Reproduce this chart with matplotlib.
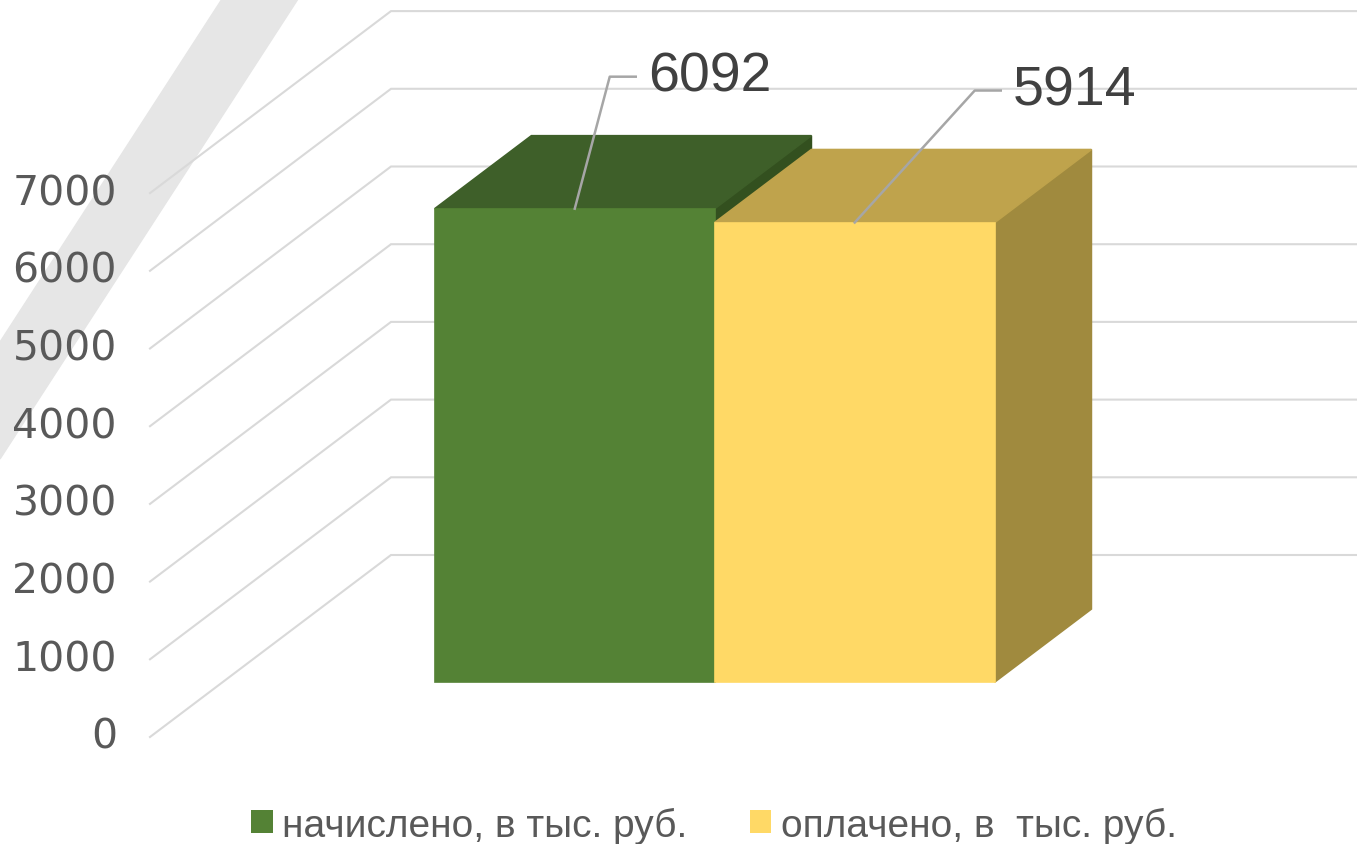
import numpy as np
import matplotlib
matplotlib.use('Agg')
import matplotlib.pyplot as plt
from matplotlib.patches import Polygon, Patch
from matplotlib import font_manager

# данные
series = ['начислено, в тыс. руб.', 'оплачено, в  тыс. руб.']
values = [6092, 5914]
y_ticks = [0, 1000, 2000, 3000, 4000, 5000, 6000, 7000]

front_colors = ['#548235', '#ffd966']
top_colors = ['#3e5f29', '#bfa34c']
side_colors = ['#33501f', '#a08a3e']

# геометрия псевдо-3D (в пикселях картинки)
W, H = 1357, 845
PX_U = 280.0          # пикселей на ширину столбца
PX_V = 0.0777         # пикселей на единицу значения
ORIG_X, ORIG_Y = 150, 738
du = 241 / PX_U
dv = 182 / PX_V
D_FRONT, D_BACK = 0.302, 0.703
bar_left = [0.757, 1.757]

names = {f.name for f in font_manager.fontManager.ttflist}
narrow = 'Liberation Sans Narrow' if 'Liberation Sans Narrow' in names else 'Liberation Sans'


def proj(u, v, d):
    return (u + d * du, v + d * dv)


fig = plt.figure(figsize=(W / 100, H / 100), dpi=100)

# декоративная серая полоса (под графиком)
band = Polygon([(222 / W, 1), (298 / W, 1), (0, 1 - 460 / H), (0, 1 - 343 / H)],
               closed=True, transform=fig.transFigure, color='#e6e6e6', zorder=-5)
fig.patches.append(band)

ax = fig.add_axes([0, 0, 1, 1], zorder=1)
ax.set_xlim(-ORIG_X / PX_U, (W - ORIG_X) / PX_U)
ax.set_ylim(-(H - ORIG_Y) / PX_V, ORIG_Y / PX_V)
ax.axis('off')
ax.patch.set_alpha(0)

# сетка: боковая стенка + задняя стенка
far = (W - ORIG_X) / PX_U + 1
for t in y_ticks:
    x0, y0 = proj(0, t, 0)
    x1, y1 = proj(0, t, 1)
    ax.plot([x0, x1, far], [y0, y1, y1], color='#d9d9d9', lw=1.5, zorder=1,
            solid_joinstyle='miter')
    ax.annotate(f'{t}', xy=(x0, y0), xytext=(-33, 0), textcoords='offset pixels',
                ha='right', va='center', fontsize=29.5, color='#595959',
                family='DejaVu Sans')

# столбцы
for i, v in enumerate(values):
    uL, uR = bar_left[i], bar_left[i] + 1
    front = [proj(uL, 0, D_FRONT), proj(uR, 0, D_FRONT), proj(uR, v, D_FRONT), proj(uL, v, D_FRONT)]
    top = [proj(uL, v, D_FRONT), proj(uR, v, D_FRONT), proj(uR, v, D_BACK), proj(uL, v, D_BACK)]
    side = [proj(uR, 0, D_FRONT), proj(uR, 0, D_BACK), proj(uR, v, D_BACK), proj(uR, v, D_FRONT)]
    z = 2 + i
    for poly, col in ((side, side_colors[i]), (top, top_colors[i]), (front, front_colors[i])):
        ax.add_patch(Polygon(poly, closed=True, facecolor=col, edgecolor=col,
                             lw=1.2, joinstyle='miter', zorder=z))

# подписи с выносками
label_dx = [35, 120]
label_dy = 132
hook = 26
inv = ax.transData.inverted()
for i, v in enumerate(values):
    anchor = np.array(ax.transData.transform(proj(bar_left[i] + 0.5, v, D_FRONT)))
    elbow = anchor + np.array([label_dx[i], label_dy])
    end = elbow + np.array([hook, 0])
    pts = inv.transform(np.vstack([anchor, elbow, end]))
    ax.plot(pts[:, 0], pts[:, 1], color='#a6a6a6', lw=1.8, zorder=5)
    ax.annotate(f'{v}', xy=pts[2], xytext=(12, 0), textcoords='offset pixels',
                ha='left', va='center', fontsize=40, color='#404040',
                family='Liberation Sans', zorder=6)

# легенда
handles = [Patch(facecolor=c, edgecolor='none') for c in front_colors]
fig.legend(handles, series, loc='center', bbox_to_anchor=(714 / W, 1 - 826 / H),
           ncol=2, frameon=False, handlelength=0.55, handleheight=0.55,
           handletextpad=0.25, columnspacing=1.6,
           prop={'family': narrow, 'size': 28}, labelcolor='#595959')

fig.savefig('out.png', dpi=100)
